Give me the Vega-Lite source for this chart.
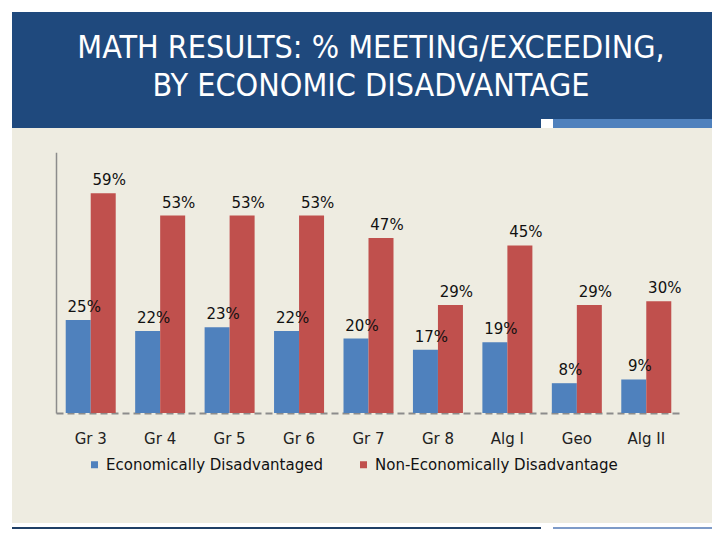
{
  "$schema": "https://vega.github.io/schema/vega-lite/v6.json",
  "background": "white",
  "padding": {"left": 12, "top": 12, "right": 8, "bottom": 11},
  "spacing": 0,
  "config": {
    "view": {"stroke": null},
    "concat": {"spacing": 0},
    "font": "DejaVu Sans"
  },
  "vconcat": [
    {
      "width": 700,
      "height": 107,
      "view": {"fill": "#1F497D", "stroke": null},
      "data": {"values": [{"title": "MATH RESULTS: % MEETING/EXCEEDING,\nBY ECONOMIC DISADVANTAGE"}]},
      "mark": {
        "type": "text",
        "lineBreak": "\n",
        "align": "center",
        "baseline": "alphabetic",
        "dx": 9,
        "dy": -8,
        "lineHeight": 38,
        "font": "Liberation Sans Narrow, DejaVu Sans Condensed, sans-serif",
        "fontSize": 32,
        "fill": "white"
      },
      "encoding": {"text": {"field": "title", "type": "nominal"}}
    },
    {
      "spacing": 0,
      "hconcat": [
        {"width": 529, "height": 9, "view": {"fill": "#1F497D", "stroke": null}, "data": {"values": []}, "mark": "rect", "encoding": {}},
        {"width": 12, "height": 9, "view": {"fill": "white", "stroke": null}, "data": {"values": []}, "mark": "rect", "encoding": {}},
        {"width": 159, "height": 9, "view": {"fill": "#4F81BD", "stroke": null}, "data": {"values": []}, "mark": "rect", "encoding": {}}
      ]
    },
    {
      "width": 700,
      "height": 395,
      "view": {"fill": "#EEECE1", "stroke": null},
      "data": {
        "values": [
          {"subject": "Gr 3", "group": "Economically Disadvantaged", "pct": 0.25},
          {"subject": "Gr 3", "group": "Non-Economically Disadvantage", "pct": 0.59},
          {"subject": "Gr 4", "group": "Economically Disadvantaged", "pct": 0.22},
          {"subject": "Gr 4", "group": "Non-Economically Disadvantage", "pct": 0.53},
          {"subject": "Gr 5", "group": "Economically Disadvantaged", "pct": 0.23},
          {"subject": "Gr 5", "group": "Non-Economically Disadvantage", "pct": 0.53},
          {"subject": "Gr 6", "group": "Economically Disadvantaged", "pct": 0.22},
          {"subject": "Gr 6", "group": "Non-Economically Disadvantage", "pct": 0.53},
          {"subject": "Gr 7", "group": "Economically Disadvantaged", "pct": 0.20},
          {"subject": "Gr 7", "group": "Non-Economically Disadvantage", "pct": 0.47},
          {"subject": "Gr 8", "group": "Economically Disadvantaged", "pct": 0.17},
          {"subject": "Gr 8", "group": "Non-Economically Disadvantage", "pct": 0.29},
          {"subject": "Alg I", "group": "Economically Disadvantaged", "pct": 0.19},
          {"subject": "Alg I", "group": "Non-Economically Disadvantage", "pct": 0.45},
          {"subject": "Geo", "group": "Economically Disadvantaged", "pct": 0.08},
          {"subject": "Geo", "group": "Non-Economically Disadvantage", "pct": 0.29},
          {"subject": "Alg II", "group": "Economically Disadvantaged", "pct": 0.09},
          {"subject": "Alg II", "group": "Non-Economically Disadvantage", "pct": 0.30}
        ]
      },
      "encoding": {
        "x": {
          "field": "subject",
          "type": "nominal",
          "sort": null,
          "scale": {"range": [44, 669], "paddingInner": 0.28, "paddingOuter": 0.14},
          "axis": {
            "orient": "bottom",
            "offset": -110,
            "title": null,
            "ticks": false,
            "domainDash": [7, 4],
            "domainColor": "#8c8c8c",
            "domainWidth": 2,
            "labelAngle": 0,
            "labelPadding": 30,
            "labelBaseline": "alphabetic",
            "labelFont": "DejaVu Sans",
            "labelFontSize": 15,
            "labelColor": "#222222"
          }
        },
        "xOffset": {
          "field": "group",
          "type": "nominal",
          "scale": {"paddingInner": 0, "paddingOuter": 0}
        },
        "y": {
          "field": "pct",
          "type": "quantitative",
          "scale": {"domain": [0, 0.7], "range": [285, 24.25], "nice": false},
          "axis": {
            "orient": "left",
            "offset": -44,
            "title": null,
            "labels": false,
            "ticks": false,
            "grid": false,
            "domainColor": "#8c8c8c",
            "domainWidth": 1.5
          }
        }
      },
      "layer": [
        {
          "mark": {"type": "bar"},
          "encoding": {
            "color": {
              "field": "group",
              "type": "nominal",
              "scale": {"range": ["#4F81BD", "#C0504D"]},
              "legend": {
                "orient": "none",
                "legendX": 75,
                "legendY": 445,
                "direction": "horizontal",
                "title": null,
                "symbolType": "square",
                "symbolSize": 49,
                "symbolStrokeWidth": 0,
                "labelFont": "DejaVu Sans",
                "labelFontSize": 15,
                "labelColor": "#111111",
                "labelOffset": 4,
                "labelLimit": 0,
                "columnPadding": 33
              }
            }
          }
        },
        {
          "mark": {
            "type": "text",
            "align": "center",
            "baseline": "alphabetic",
            "dx": 6,
            "dy": -8,
            "font": "DejaVu Sans",
            "fontSize": 15,
            "fill": "#111111"
          },
          "encoding": {"text": {"field": "pct", "type": "quantitative", "format": ".0%"}}
        }
      ]
    },
    {"width": 700, "height": 4, "data": {"values": []}, "mark": "rect", "encoding": {}},
    {
      "spacing": 0,
      "hconcat": [
        {"width": 529, "height": 2, "view": {"fill": "#1F3F66", "stroke": null}, "data": {"values": []}, "mark": "rect", "encoding": {}},
        {"width": 12, "height": 2, "data": {"values": []}, "mark": "rect", "encoding": {}},
        {"width": 159, "height": 2, "view": {"fill": "#7E9BC8", "stroke": null}, "data": {"values": []}, "mark": "rect", "encoding": {}}
      ]
    }
  ]
}
